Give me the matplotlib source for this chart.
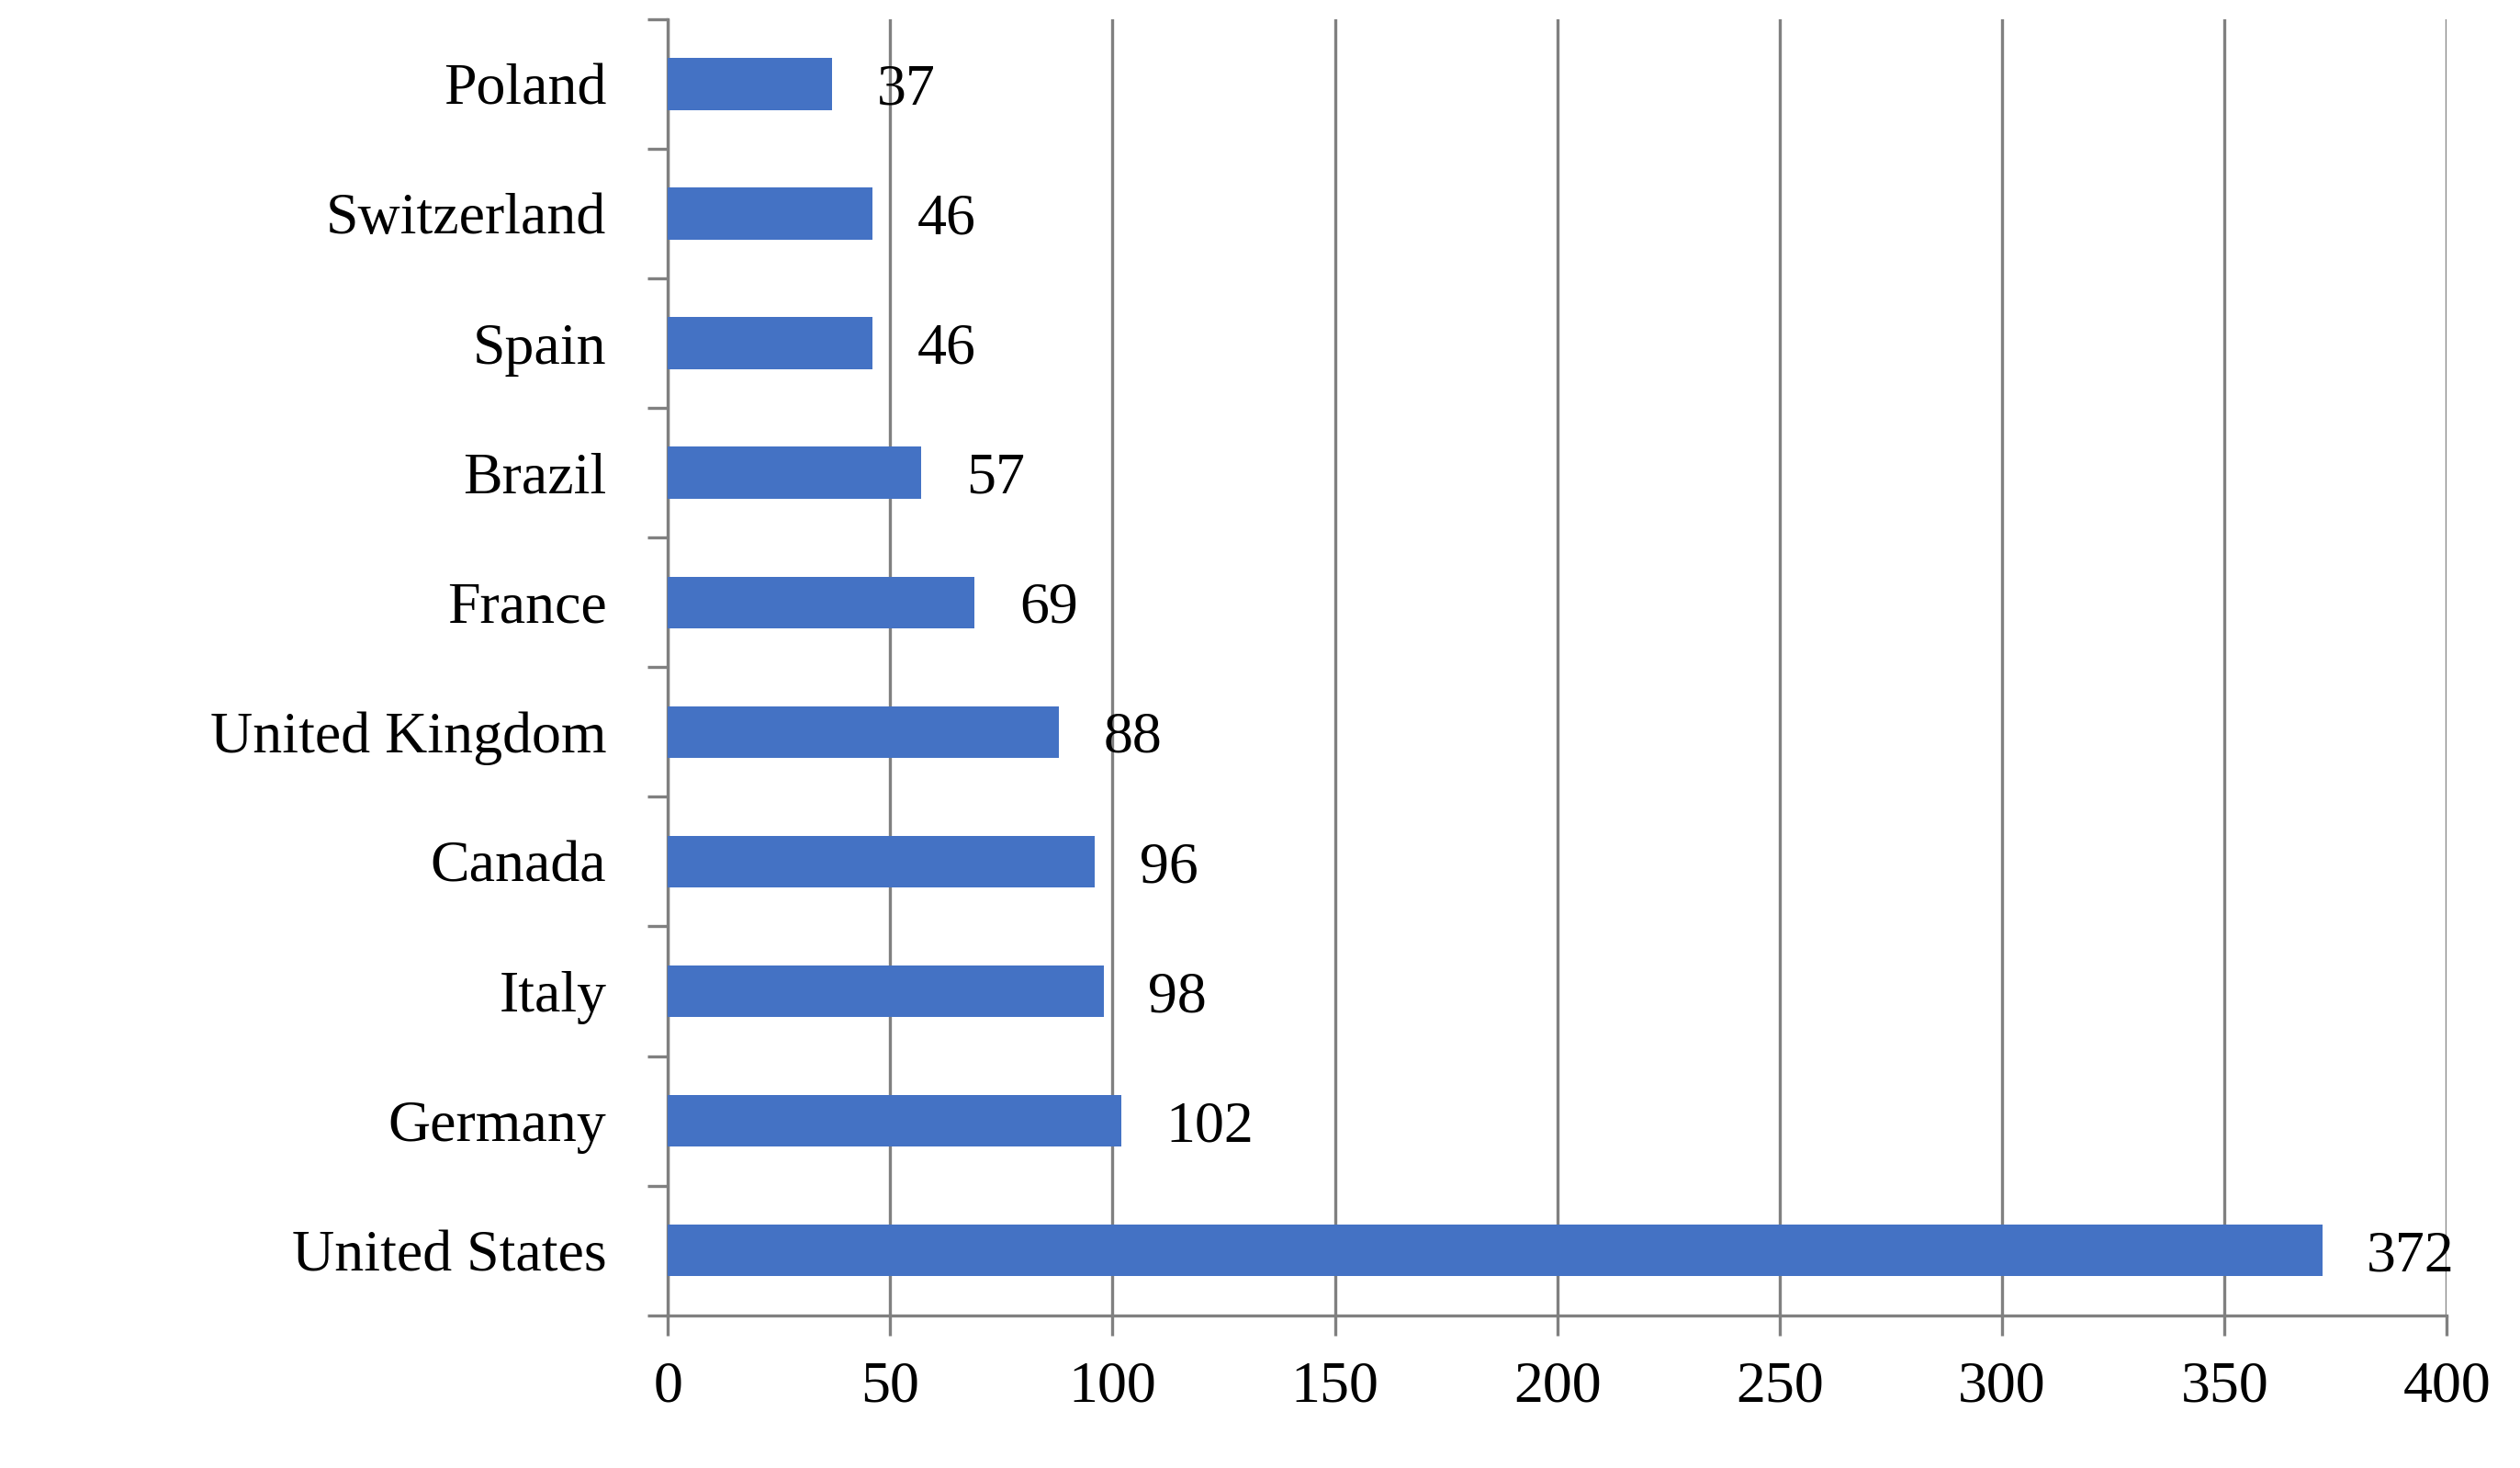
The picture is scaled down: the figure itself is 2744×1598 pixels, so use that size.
import matplotlib.pyplot as plt
import numpy as np

countries = ["United States", "Germany", "Italy", "Canada", "United Kingdom",
             "France", "Brazil", "Spain", "Switzerland", "Poland"]
values = [372, 102, 98, 96, 88, 69, 57, 46, 46, 37]

plt.rcParams['font.family'] = ['Liberation Serif', 'DejaVu Serif']
fig = plt.figure(figsize=(13.72, 7.99), dpi=200)
ax = fig.add_axes([0.265, 0.104, 0.706, 0.883])

y = np.arange(len(countries))
ax.barh(y, values, height=0.4, color='#4472C4', zorder=3)
for yi, v in zip(y, values):
    ax.text(v + 10, yi - 0.05, str(v), va='center', ha='left', fontsize=23, zorder=4)

ax.set_xlim(0, 400)
ax.set_ylim(-0.5, len(countries) - 0.5)
ax.set_xticks(range(0, 401, 50))
ax.set_yticks(y)
ax.set_yticklabels(countries)
ax.set_yticks(np.arange(-0.5, len(countries), 1), minor=True)
ax.tick_params(axis='y', which='major', length=0, pad=24, labelsize=23)
ax.tick_params(axis='y', which='minor', length=8, color='#808080', width=1.2)
ax.tick_params(axis='x', length=8, color='#808080', width=1.2, labelsize=23, pad=10)
ax.grid(axis='x', color='#808080', linewidth=1.2, zorder=0)
for s in ['top', 'right']:
    ax.spines[s].set_visible(False)
for s in ['left', 'bottom']:
    ax.spines[s].set_color('#808080')
    ax.spines[s].set_linewidth(1.2)

fig.savefig('out.png')
